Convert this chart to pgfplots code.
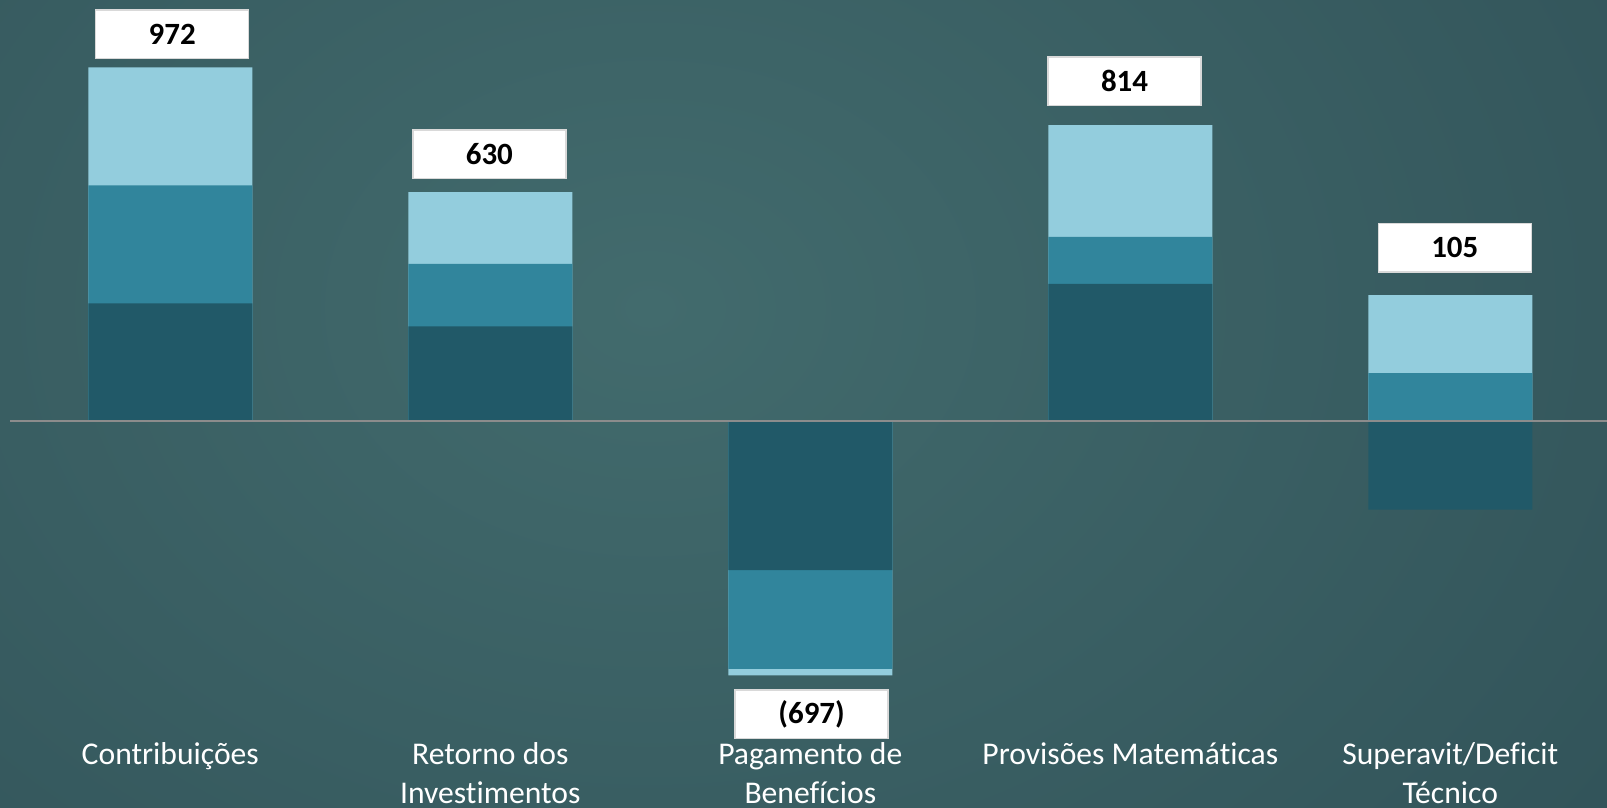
\documentclass[border=0pt]{standalone}
\usepackage{pgfplots}
\pgfplotsset{compat=1.18}
\usepackage{fontspec}
\setmainfont{Carlito}[Ligatures=NoCommon]
\definecolor{segLight}{HTML}{93CDDD}
\definecolor{segMid}{HTML}{31859C}
\definecolor{segDark}{HTML}{215968}
\definecolor{bgIn}{HTML}{426B6D}
\definecolor{bgOut}{HTML}{25414A}
\definecolor{zeroLine}{HTML}{8C8C8C}
\begin{document}
\begin{tikzpicture}
\useasboundingbox (0,0) rectangle (16.07,8.08);
\clip (0,0) rectangle (16.07,8.08);
\fill[bgOut] (0,0) rectangle (16.07,8.08);
\shade[inner color=bgIn, outer color=bgOut] (-14.5,-11) rectangle (27.5,21);
\begin{axis}[
  at={(0,0)}, anchor=south west,
  scale only axis, width=16.07cm, height=8.08cm,
  xmin=-0.5322, xmax=4.4897, ymin=-1061.2, ymax=1157.3,
  axis line style={draw=none},
  ytick=\empty,
  xtick={0,1,2,3,4},
  xticklabels={\strut Contribuições,{\strut Retorno dos\\Investimentos},{\strut Pagamento de\\Benefícios},\strut Provisões Matemáticas,{\strut Superavit/Deficit\\Técnico}},
  major tick length=0pt,
  xticklabel style={font=\fontsize{9}{11}\selectfont, text=white, align=center, anchor=north, inner sep=0pt, yshift=0.712cm},
]
% cumulative heights of the three segments (light = total of the stack)
\addplot[ybar, bar width=1.64cm, bar shift=0pt, fill=segLight, draw=none]
  coordinates {(0,972) (1,630) (2,-697) (3,814) (4,347)};
\addplot[ybar, bar width=1.64cm, bar shift=0pt, fill=segMid, draw=none]
  coordinates {(0,648) (1,433) (2,-679) (3,507) (4,133)};
\addplot[ybar, bar width=1.64cm, bar shift=0pt, fill=segDark, draw=none]
  coordinates {(0,324) (1,261) (2,-408) (3,378) (4,-242)};
\draw[zeroLine, line width=0.02cm] (axis cs:-0.501,0) -- (axis cs:4.4897,0);
% value labels
\addplot[draw=none, mark=none, nodes near coords, point meta=explicit symbolic,
  every node near coord/.append style={anchor=center, fill=white, draw=black!15, text=black,
    font=\fontsize{8.8}{10}\selectfont\bfseries, minimum width=1.53cm, minimum height=0.485cm, inner sep=0pt}]
  table[meta=lab] {
x y lab
0.006 1063 972
0.997 734 630
2.004 -804 (697)
2.982 934 814
4.014 477 105
};
\end{axis}
\end{tikzpicture}
\end{document}
